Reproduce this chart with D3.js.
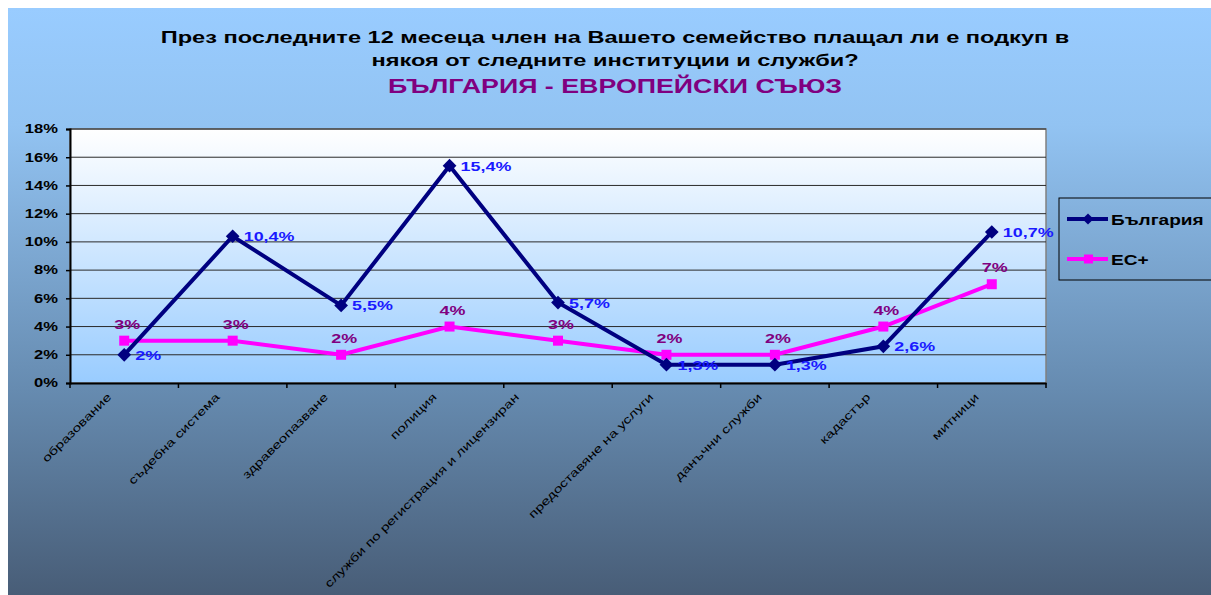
<!DOCTYPE html>
<html><head>
<meta charset="utf-8">
<script src="https://d3js.org/d3.v7.min.js"></script>
<style>
  body { margin: 0; background: #fff; }
  text { font-family: Arial, "Liberation Sans", sans-serif; }
</style>
</head>
<body>
<div id="chart"></div>
<script>

// data
var categories = ["образование", "съдебна система", "здравеопазване", "полиция",
  "служби по регистрация и лицензиран", "предоставяне на услуги", "данъчни служби",
  "кадастър", "митници"];
var bulgaria = [2, 10.4, 5.5, 15.4, 5.7, 1.3, 1.3, 2.6, 10.7];
var euPlus = [3, 3, 2, 4, 3, 2, 2, 4, 7];
var yTicks = [0, 2, 4, 6, 8, 10, 12, 14, 16, 18];
var titleLines = ["През последните 12 месеца член на Вашето семейство плащал ли е подкуп в",
  "някоя от следните институции и служби?"];
var subTitle = "БЪЛГАРИЯ - ЕВРОПЕЙСКИ СЪЮЗ";
var seriesNames = ["България", "ЕС+"];

var W = 1211, H = 595;
var plot = {left: 70, top: 129, right: 1046, bottom: 383};
var sx = 1.38; // the original text is drawn horizontally stretched

var svg = d3.select("#chart").append("svg")
  .attr("width", W).attr("height", H);

var defs = svg.append("defs");
var bg = defs.append("linearGradient").attr("id", "bg")
  .attr("x1", 0).attr("y1", 0).attr("x2", 0).attr("y2", 1);
bg.append("stop").attr("offset", "0%").attr("stop-color", "#99ccff");
bg.append("stop").attr("offset", "20%").attr("stop-color", "#92c3f2");
bg.append("stop").attr("offset", "65%").attr("stop-color", "#668bb0");
bg.append("stop").attr("offset", "100%").attr("stop-color", "#485d77");

var pg = defs.append("linearGradient").attr("id", "pg")
  .attr("x1", 0).attr("y1", 0).attr("x2", 0).attr("y2", 1);
pg.append("stop").attr("offset", "0%").attr("stop-color", "#ffffff");
pg.append("stop").attr("offset", "100%").attr("stop-color", "#99ccff");

svg.append("rect").attr("x", 8).attr("y", 8)
  .attr("width", W - 8).attr("height", H - 8)
  .attr("fill", "url(#bg)");

// titles
svg.selectAll("text.title").data(titleLines).enter().append("text")
  .attr("class", "title")
  .attr("transform", function(d, i) {
    return "translate(615," + (43 + i * 22.5) + ") scale(1.43,1)";
  })
  .attr("text-anchor", "middle")
  .style("font-size", "16.5px").style("font-weight", "bold")
  .attr("fill", "#000")
  .text(function(d) { return d; });

svg.append("text")
  .attr("transform", "translate(615,93) scale(1.34,1)")
  .attr("text-anchor", "middle")
  .style("font-size", "20px").style("font-weight", "bold")
  .attr("fill", "#800080")
  .text(subTitle);

// scales
var x = d3.scaleBand().domain(categories).range([plot.left, plot.right]);
var y = d3.scaleLinear().domain([0, 18]).range([plot.bottom, plot.top]);
var cx = function(i) { return x(categories[i]) + x.bandwidth() / 2; };

svg.append("rect")
  .attr("x", plot.left).attr("y", plot.top)
  .attr("width", plot.right - plot.left).attr("height", plot.bottom - plot.top)
  .attr("fill", "url(#pg)")
  .attr("stroke", "#808080").attr("stroke-width", 1.5);

// gridlines
svg.append("g").selectAll("line").data(yTicks.slice(1)).enter().append("line")
  .attr("x1", plot.left).attr("x2", plot.right)
  .attr("y1", function(d) { return y(d); }).attr("y2", function(d) { return y(d); })
  .attr("stroke", "#2a2a2a").attr("stroke-width", 1);

// y axis
var yAxis = svg.append("g")
  .attr("transform", "translate(" + plot.left + ",0)")
  .call(d3.axisLeft(y).tickValues(yTicks).tickSize(4)
    .tickFormat(function(d) { return d + "%"; }));
yAxis.select(".domain").attr("stroke", "#000").attr("stroke-width", 2);
yAxis.selectAll(".tick line").attr("stroke", "#000").attr("stroke-width", 1.5);
yAxis.selectAll(".tick text").attr("x", null)
  .attr("transform", "translate(-12,0) scale(" + sx + ",1)")
  .style("font-size", "12px").style("font-weight", "bold")
  .style("font-family", "Arial, 'Liberation Sans', sans-serif").attr("fill", "#000");

// x axis
var xAxis = svg.append("g")
  .attr("transform", "translate(0," + plot.bottom + ")")
  .call(d3.axisBottom(x).tickSize(0).tickFormat(""));
xAxis.select(".domain").attr("stroke", "#000").attr("stroke-width", 2);

var bounds = categories.map(function(c) { return x(c); }).concat([plot.right]);
xAxis.selectAll("line.bt").data(bounds).enter().append("line")
  .attr("class", "bt")
  .attr("x1", function(d) { return d; }).attr("x2", function(d) { return d; })
  .attr("y1", 0).attr("y2", 5)
  .attr("stroke", "#000").attr("stroke-width", 1.5);

// the clipped long label sits further left, as in the original
var labelShift = function(d) { return d.length > 30 ? 41 : 15; };

svg.append("g").selectAll("text").data(categories).enter().append("text")
  .attr("transform", function(d, i) {
    return "translate(" + (cx(i) - labelShift(d)) + "," + (plot.bottom + 12) + ") rotate(-45) scale(" + sx + ",1)";
  })
  .attr("text-anchor", "end")
  .attr("dy", "0.35em")
  .style("font-size", "11.2px")
  .attr("fill", "#000")
  .text(function(d) { return d; });

// lines
var line = function(vals) {
  return d3.line().x(function(d, i) { return cx(i); }).y(function(d) { return y(d); })(vals);
};

svg.append("path").attr("d", line(euPlus))
  .attr("fill", "none").attr("stroke", "#ff00ff").attr("stroke-width", 4);
svg.append("path").attr("d", line(bulgaria))
  .attr("fill", "none").attr("stroke", "#000080").attr("stroke-width", 4);

svg.append("g").selectAll("rect").data(euPlus).enter().append("rect")
  .attr("x", function(d, i) { return cx(i) - 5; })
  .attr("y", function(d) { return y(d) - 5; })
  .attr("width", 10).attr("height", 10)
  .attr("fill", "#ff00ff");

svg.append("g").selectAll("path").data(bulgaria).enter().append("path")
  .attr("d", d3.symbol().type(d3.symbolDiamond2).size(120))
  .attr("transform", function(d, i) { return "translate(" + cx(i) + "," + y(d) + ")"; })
  .attr("fill", "#000080");

// data labels
svg.append("g").selectAll("text").data(euPlus).enter().append("text")
  .attr("transform", function(d, i) {
    return "translate(" + (cx(i) + 3) + "," + (y(d) - 12) + ") scale(" + sx + ",1)";
  })
  .attr("text-anchor", "middle")
  .style("font-size", "13px").style("font-weight", "bold")
  .attr("fill", "#800080")
  .text(function(d) { return d + "%"; });

svg.append("g").selectAll("text").data(bulgaria).enter().append("text")
  .attr("transform", function(d, i) {
    return "translate(" + (cx(i) + 11) + "," + (y(d) + 5) + ") scale(" + sx + ",1)";
  })
  .style("font-size", "13px").style("font-weight", "bold")
  .attr("fill", "#1a1aff")
  .text(function(d) { return String(d).replace(".", ",") + "%"; });

// legend
var lg = svg.append("g");
lg.append("rect").attr("x", 1059).attr("y", 198)
  .attr("width", 160).attr("height", 82)
  .attr("fill", "none").attr("stroke", "#000").attr("stroke-width", 1);
var legendRows = [
  {name: seriesNames[0], color: "#000080", yy: 219},
  {name: seriesNames[1], color: "#ff00ff", yy: 259}
];
legendRows.forEach(function(r, i) {
  lg.append("line").attr("x1", 1067).attr("x2", 1108)
    .attr("y1", r.yy).attr("y2", r.yy)
    .attr("stroke", r.color).attr("stroke-width", 4);
  if (i === 0) {
    lg.append("path").attr("d", d3.symbol().type(d3.symbolDiamond2).size(80))
      .attr("transform", "translate(1088," + r.yy + ")").attr("fill", r.color);
  } else {
    lg.append("rect").attr("x", 1084).attr("y", r.yy - 4.5)
      .attr("width", 9).attr("height", 9).attr("fill", r.color);
  }
  lg.append("text")
    .attr("transform", "translate(1111," + (r.yy + 6) + ") scale(1.36,1)")
    .style("font-size", "14px").style("font-weight", "bold")
    .attr("fill", "#000").text(r.name);
});

</script>
</body></html>
